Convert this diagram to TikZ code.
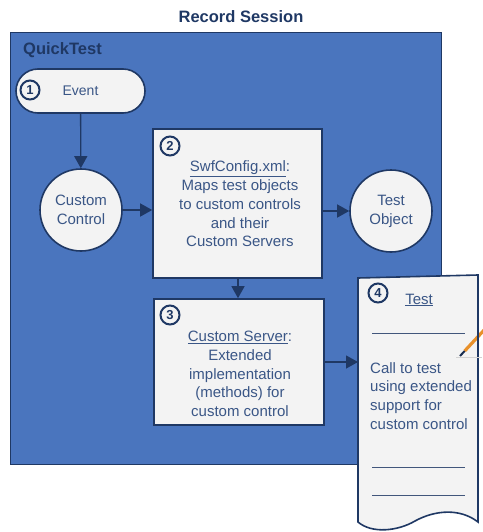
\documentclass[tikz,border=0pt]{standalone}
\usepackage{fontspec}
\setmainfont{Liberation Sans}
\usetikzlibrary{arrows.meta,calc}
\definecolor{bluefill}{HTML}{4A75BE}
\definecolor{navy}{HTML}{1F3864}
\definecolor{txt}{HTML}{3A5686}
\definecolor{boxfill}{HTML}{F3F3F3}
\definecolor{pencil}{HTML}{E8902A}
\begin{document}
\begin{tikzpicture}[x=1pt,y=-1pt,
 fnt/.style={font=\fontsize{15}{18.8}\selectfont, text=txt},
 boxst/.style={draw=navy, line width=1.6pt, fill=boxfill},
 conn/.style={draw=navy, line width=1.3pt, -{Triangle[length=12pt,width=13pt]}},
 num/.style={circle, draw=navy, line width=2pt, inner sep=0pt, minimum size=19pt, font=\bfseries\fontsize{13}{13}\selectfont, text=navy},
 blank/.style={draw=navy!85, line width=0.9pt}
]
\useasboundingbox (0,0) rectangle (482,532);
\node[font=\bfseries\fontsize{16.5}{18}\selectfont, text=navy] (title) at (241,17) {Record Session};
\node[draw=navy, line width=1.2pt, fill=bluefill, minimum width=431pt, minimum height=432pt, anchor=north west, inner sep=0pt] (qt) at (10,32) {};
\node[font=\bfseries\fontsize{16.5}{18}\selectfont, text=navy, anchor=west, inner sep=0pt] (qtlabel) at (23,50) {QuickTest};

% Event
\node[boxst, rounded corners=22pt, minimum width=129pt, minimum height=44pt, font=\fontsize{14}{16}\selectfont, text=txt] (event) at (80.5,91) {Event};
\node[num] (n1) at (30,90) {1};

% Custom Control
\node[boxst, circle, minimum size=82pt, inner sep=0pt, fnt, align=center] (cc) at (81,210) {Custom\\Control};

% SwfConfig box
\node[boxst, minimum width=169pt, minimum height=149pt] (cfg) at (237.5,203.5) {};
\node[fnt, align=center] (cfgtxt) at (240,204) {\underline{SwfConfig.xml}:\\Maps test objects\\to custom controls\\and their\\Custom Servers};
\node[num] (n2) at (170,146) {2};

% Test Object
\node[boxst, circle, minimum size=82pt, inner sep=0pt, fnt, align=center] (to) at (391,211) {Test\\Object};

% Custom Server box
\node[boxst, minimum width=170pt, minimum height=126pt] (srv) at (239,362) {};
\node[fnt, align=center] (srvtxt) at (240,374) {\underline{Custom Server}:\\Extended\\implementation\\(methods) for\\custom control};
\node[num] (n3) at (170,315) {3};

% pencil (under document edge)
\coordinate (pa) at (456,357); \coordinate (pb) at (482,357);
\coordinate (pt) at (460,356); \coordinate (pe) at (486,328);

% Test document
\draw[boxst] (358,278) -- (478,275) -- (478,522)
  .. controls (460,508) and (435,510) .. (415,521)
  .. controls (398,531) and (372,534) .. (358,522) -- cycle;
\draw[gray!35, line width=1pt] (pa) -- (pb);
\draw[pencil, line width=3.2pt] ($(pt)!0.18!(pe)$) -- (pe);
\draw[navy!80!black, line width=2pt] (pt) -- ($(pt)!0.18!(pe)$);
\draw[navy, line width=1.6pt] (478,300) -- (478,345);
\coordinate (docin) at (358,362);
\node[num] (n4) at (378,293) {4};
\node[fnt] (testlbl) at (419,300) {\underline{Test}};
\coordinate (b1a) at (372,333); \coordinate (b1b) at (465,333);
\coordinate (b2a) at (372,467); \coordinate (b2b) at (465,467);
\coordinate (b3a) at (372,495); \coordinate (b3b) at (465,495);
\draw[blank] (b1a) -- (b1b);
\draw[blank] (b2a) -- (b2b);
\draw[blank] (b3a) -- (b3b);
\node[fnt, align=left, anchor=north west, inner sep=0pt] (calltxt) at (370,362) {Call to test\\using extended\\support for\\custom control};

% connectors
\coordinate (dx) at (238,0);
\draw[conn] (event) -- (cc);
\draw[conn] (cc.east) -- (cc.east -| cfg.west);
\draw[conn] (cfg.east |- to.west) -- (to.west);
\draw[conn] (cfg.south -| dx) -- (srv.north -| dx);
\draw[conn] (srv.east |- docin) -- (docin);
\end{tikzpicture}
\end{document}
